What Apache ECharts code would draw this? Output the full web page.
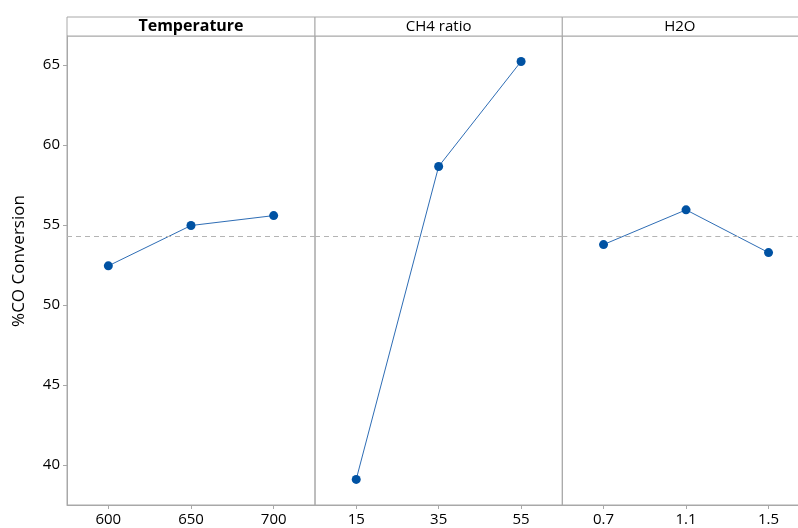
<!DOCTYPE html>
<html>
<head>
<meta charset="utf-8">
<script src="https://cdn.jsdelivr.net/npm/echarts@6/dist/echarts.min.js"></script>
<style>
html,body{margin:0;padding:0;background:#fff;}
#chart{width:798px;height:528px;}
</style>
</head>
<body>
<div id="chart"></div>
<script>
// ---- data ----
var panelTitles = ['Temperature', 'CH4 ratio', 'H2O'];
var tempLevels = ['600', '650', '700'];
var tempMeans = [52.44, 54.96, 55.58];
var ch4Levels = ['15', '35', '55'];
var ch4Means = [39.10, 58.65, 65.21];
var h2oLevels = ['0.7', '1.1', '1.5'];
var h2oMeans = [53.77, 55.94, 53.27];
var yTicks = [40, 45, 50, 55, 60, 65];
var yTitle = '%CO Conversion';

var allVals = tempMeans.concat(ch4Means, h2oMeans);
var grandMean = allVals.reduce(function (a, b) { return a + b; }, 0) / allVals.length;

// ---- chart ----
var FONT = '"Open Sans", "Noto Sans", sans-serif';
var GRAY = '#a8a8a8';
var chart = echarts.init(document.getElementById('chart'), null, { renderer: 'canvas' });

var gridTop = 36, gridBottom = 23;
var grids = [
  { left: 67, top: gridTop, width: 248, bottom: gridBottom },
  { left: 315, top: gridTop, width: 247.3, bottom: gridBottom },
  { left: 562.3, top: gridTop, width: 247.5, bottom: gridBottom }
];
grids.forEach(function (g) {
  g.show = true; g.borderColor = GRAY; g.borderWidth = 1;
  g.containLabel = false; g.outerBoundsMode = 'none';
});

var levelSets = [tempLevels, ch4Levels, h2oLevels];
var meanSets = [tempMeans, ch4Means, h2oMeans];

var xAxes = levelSets.map(function (lv, i) {
  return {
    type: 'category', gridIndex: i, data: lv, boundaryGap: true,
    axisLine: { show: true, lineStyle: { color: GRAY, width: 1 } },
    axisTick: { show: true, alignWithLabel: true, length: 4, lineStyle: { color: GRAY } },
    axisLabel: { show: true, color: '#000', fontSize: 15, fontFamily: FONT, margin: 7 },
    splitLine: { show: false }
  };
});

var yAxes = [0, 1, 2].map(function (i) {
  return {
    type: 'value', gridIndex: i, min: 37.5, max: 66.8,
    axisLine: { show: i === 0, lineStyle: { color: GRAY } },
    axisTick: { show: i === 0, length: 4, lineStyle: { color: GRAY }, customValues: yTicks },
    axisLabel: { show: i === 0, color: '#000', fontSize: 15, fontFamily: FONT, margin: 7, customValues: yTicks },
    splitLine: { show: false }
  };
});

var series = meanSets.map(function (vals, i) {
  return {
    type: 'line', xAxisIndex: i, yAxisIndex: i, data: vals,
    symbol: 'circle', symbolSize: 9,
    itemStyle: { color: '#0052a3' },
    lineStyle: { color: '#2e6db5', width: 1 },
    animation: false,
    markLine: {
      silent: true, symbol: 'none', animation: false,
      label: { show: false },
      lineStyle: { color: '#b4b4b4', type: [5, 4], width: 1 },
      data: [{ yAxis: grandMean }]
    }
  };
});

// header strips with panel titles
var graphics = [];
grids.forEach(function (g, i) {
  graphics.push({
    type: 'rect', silent: true,
    shape: { x: g.left, y: 17, width: g.width, height: gridTop - 17 },
    style: { fill: '#fff', stroke: GRAY, lineWidth: 1 }
  });
  graphics.push({
    type: 'text', silent: true,
    x: g.left + (i === 2 ? 235 : g.width) / 2, y: 26.5,
    style: {
      text: panelTitles[i], fill: '#000',
      font: (i === 0 ? 'bold 16px ' : '15px ') + FONT,
      align: 'center', verticalAlign: 'middle'
    }
  });
});
graphics.push({
  type: 'text', silent: true, x: 19, y: 261, rotation: Math.PI / 2,
  style: { text: yTitle, fill: '#000', font: '17px ' + FONT, align: 'center', verticalAlign: 'middle' }
});

chart.setOption({
  animation: false,
  backgroundColor: '#fff',
  grid: grids,
  xAxis: xAxes,
  yAxis: yAxes,
  series: series,
  graphic: graphics
});
</script>
</body>
</html>
